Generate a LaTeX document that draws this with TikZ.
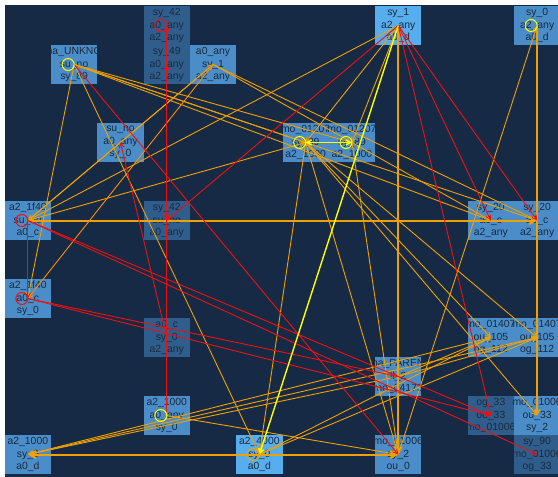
\documentclass[tikz,border=0pt]{standalone}
\usepackage{fontspec}
\setmainfont{Liberation Sans}
\usetikzlibrary{arrows.meta}
\definecolor{bgc}{HTML}{172A45}
\definecolor{midc}{HTML}{4A8DC8}
\definecolor{brightc}{HTML}{56AEEE}
\definecolor{darkc}{HTML}{2F5E8C}
\definecolor{txtc}{HTML}{1B2A3E}
\definecolor{orc}{HTML}{F0A000}
\definecolor{dorc}{HTML}{FF8C00}
\definecolor{redc}{HTML}{F01010}
\definecolor{ylwc}{HTML}{FFFF00}
\tikzset{
  lbl/.style={font=\fontsize{10.4}{12.7}\selectfont, text=txtc, align=center, inner sep=0pt},
  edge/.style={-{Straight Barb[length=4.5pt,width=5pt]}, line width=0.9pt},
  org/.style={edge, draw=orc},
  dorg/.style={edge, draw=dorc},
  redl/.style={edge, draw=redc},
  ylw/.style={edge, draw=ylwc},
  heavy/.style={line width=2pt, -{Straight Barb[length=6pt,width=7pt]}},
  loopc/.style={line width=1pt},
}
% one grid cell: name, column, row, fill, three text lines
\newcommand\cellbox[7]{%
  \fill[#4] ({4.7+46.3*#2},{6+39*#3}) rectangle ++(46.3,39);
  \node[lbl] (#1) at ({27.85+46.3*#2},{25.5+39*#3}) {#5\\#6\\#7};
}
\begin{document}
\begin{tikzpicture}[x=1pt,y=-1pt]
\useasboundingbox (0,0) rectangle (558,477);
\fill[bgc] (5,5) rectangle (558,477);

\cellbox{A}{1}{1}{midc}{na\_UNKNO}{su\_no}{sy\_89}
\cellbox{B}{3}{0}{darkc}{sy\_42}{a0\_any}{a2\_any}
\cellbox{C}{3}{1}{darkc}{sy\_49}{a0\_any}{a2\_any}
\cellbox{D}{4}{1}{midc}{a0\_any}{sy\_1}{a2\_any}
\cellbox{E}{8}{0}{brightc}{sy\_1}{a2\_any}{a0\_d}
\cellbox{F}{11}{0}{midc}{sy\_0}{a2\_any}{a0\_d}
\cellbox{G}{2}{3}{midc}{su\_no}{a0\_any}{sy\_0}
\cellbox{H}{6}{3}{midc}{mo\_01207}{sy\_89}{a2\_1000}
\cellbox{I}{7}{3}{midc}{mo\_01207}{sy\_89}{a2\_1000}
\cellbox{J}{0}{5}{midc}{a2\_1f40}{su\_no}{a0\_c}
\cellbox{K}{3}{5}{darkc}{sy\_42}{su\_no}{a0\_any}
\cellbox{L}{10}{5}{midc}{sy\_20}{a0\_c}{a2\_any}
\cellbox{M}{11}{5}{midc}{sy\_20}{a0\_c}{a2\_any}
\cellbox{N}{0}{7}{midc}{a2\_1f40}{a0\_c}{sy\_0}
\cellbox{O}{3}{8}{darkc}{a0\_c}{sy\_0}{a2\_any}
\cellbox{P}{10}{8}{midc}{mo\_01407}{ou\_105}{og\_112}
\cellbox{Q}{11}{8}{midc}{mo\_01407}{ou\_105}{og\_112}
\cellbox{R}{8}{9}{midc}{na\_PAREN}{ll\_2}{mo\_04173}
\cellbox{S}{3}{10}{midc}{a2\_1000}{a0\_any}{sy\_0}
\cellbox{T}{10}{10}{darkc}{og\_33}{ou\_33}{mo\_01006}
\cellbox{U}{11}{10}{midc}{mo\_01006}{ou\_33}{sy\_2}
\cellbox{V}{0}{11}{midc}{a2\_1000}{sy\_0}{a0\_d}
\cellbox{W}{5}{11}{brightc}{a2\_4000}{sy\_0}{a0\_d}
\cellbox{X}{8}{11}{midc}{mo\_01006}{sy\_2}{ou\_0}
\cellbox{Y}{11}{11}{darkc}{sy\_90}{mo\_01006}{og\_33}

% heavy orange links
\draw[org,heavy] (J.center) -- (M.center);
\draw[org,heavy] (E.center) -- (X.center);
\draw[org,heavy] (W.center) -- (V.center);
\draw[org,heavy] (W.center) -- (X.center);
\draw[org,line width=1.5pt] (F.center) -- (U.center);

% orange links
\foreach \s/\t in {A/H, A/I, A/L, A/M, D/L, D/M, J/D, D/J, A/N, A/W, E/J, J/H,
  E/H, E/I, H/W, H/X, H/P, H/U, H/Q, I/X, X/F, W/P, W/Q, P/V, Q/V, R/V,
  R/P, R/Q, S/X}
  \draw[org] (\s.center) -- (\t.center);
\draw[dorg] (D.center) -- (N.center);

% red links
\foreach \s/\t in {S/B, O/C, C/K, E/K, E/L, E/M, E/T, A/X, O/G, J/T, J/Y,
  N/R, N/T, J/N}
  \draw[redl] (\s.center) -- (\t.center);

% yellow links
\draw[ylw,line width=1.4pt] (E.center) -- (W.center);
\draw[ylw,line width=1.4pt] (H.center) -- (I.center);
\draw[ylw,line width=1.4pt] (I.center) -- (H.center);

% self loops
\foreach \n in {A, F, H, I, S}
  \draw[ylwc,loopc] ([xshift=-6pt]\n.center) circle (6pt);
\foreach \n in {B, J, N}
  \draw[redc,loopc] ([xshift=-6pt]\n.center) circle (6pt);
\draw[orc,loopc] ([xshift=-6pt]W.center) circle (6pt);
\end{tikzpicture}
\end{document}
